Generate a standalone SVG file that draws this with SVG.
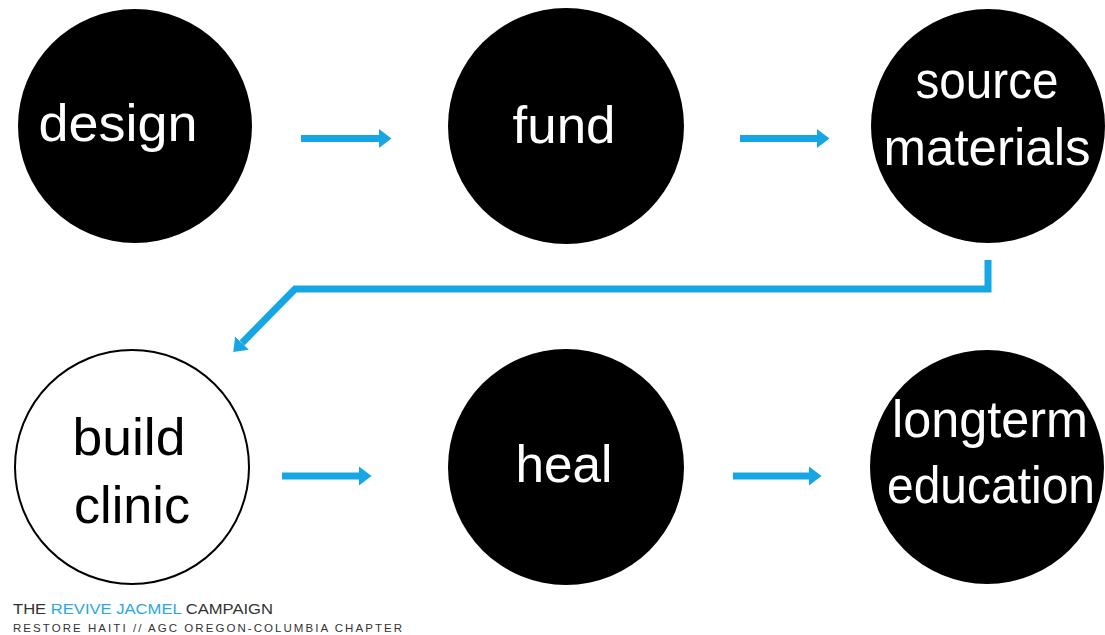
<svg xmlns="http://www.w3.org/2000/svg" width="1105" height="635" viewBox="0 0 1105 635">
<style>
.dark{fill:#000}
.open{fill:#fff;stroke:#000;stroke-width:2}
.lbl{font-family:"Liberation Sans",Arial,Helvetica,sans-serif;font-size:52px;text-anchor:middle}
.w{fill:#fff}
.b{fill:#000}
.conn{fill:none;stroke:#16a6e3;stroke-width:7;stroke-linejoin:miter}
.foot{font-family:"Liberation Sans",Arial,Helvetica,sans-serif;fill:#333}
</style>
<defs>
<marker id="ah" markerUnits="userSpaceOnUse" markerWidth="14" markerHeight="22" viewBox="0 -11 14 22" refX="0" refY="0" orient="auto">
<path d="M0,-9.5 L12.5,0 L0,9.5 z" fill="#16a6e3"/>
</marker>
</defs>
<rect width="1105" height="635" fill="#fff"/>
<g id="node-design">
<circle class="dark" cx="135" cy="126" r="117"/>
<text class="lbl w" x="118" y="141" font-size="55" textLength="159" lengthAdjust="spacingAndGlyphs">design</text>
</g>
<g id="node-fund">
<circle class="dark" cx="566" cy="126" r="118"/>
<text class="lbl w" x="564" y="143" font-size="53" textLength="103" lengthAdjust="spacingAndGlyphs">fund</text>
</g>
<g id="node-source">
<circle class="dark" cx="988" cy="126" r="117"/>
<text class="lbl w" x="987" y="98" font-size="50" textLength="143" lengthAdjust="spacingAndGlyphs">source</text>
<text class="lbl w" x="987" y="165" font-size="51" textLength="207" lengthAdjust="spacingAndGlyphs">materials</text>
</g>
<g id="node-build">
<circle class="open" cx="132" cy="467" r="117"/>
<text class="lbl b" x="129" y="455" font-size="53" textLength="113" lengthAdjust="spacingAndGlyphs">build</text>
<text class="lbl b" x="132" y="523" font-size="52" textLength="116" lengthAdjust="spacingAndGlyphs">clinic</text>
</g>
<g id="node-heal">
<circle class="dark" cx="566" cy="467" r="118"/>
<text class="lbl w" x="564" y="482" font-size="52" textLength="97" lengthAdjust="spacingAndGlyphs">heal</text>
</g>
<g id="node-longterm">
<circle class="dark" cx="987" cy="467" r="117"/>
<text class="lbl w" x="990" y="437" font-size="51" textLength="196" lengthAdjust="spacingAndGlyphs">longterm</text>
<text class="lbl w" x="991" y="503" font-size="50" textLength="208" lengthAdjust="spacingAndGlyphs">education</text>
</g>
<g id="connectors">
<line class="conn" x1="301" y1="138.5" x2="379" y2="138.5" marker-end="url(#ah)"/>
<line class="conn" x1="740" y1="138.5" x2="817" y2="138.5" marker-end="url(#ah)"/>
<line class="conn" x1="282" y1="476" x2="359" y2="476" marker-end="url(#ah)"/>
<line class="conn" x1="733" y1="476" x2="809" y2="476" marker-end="url(#ah)"/>
<polyline class="conn" points="988,260 988,289 295,289 242,343" marker-end="url(#ah)"/>
</g>
<g id="footer">
<text class="foot" x="13" y="614" font-size="15" textLength="260" lengthAdjust="spacingAndGlyphs">THE <tspan fill="#2aa8e0">REVIVE JACMEL</tspan> CAMPAIGN</text>
<text class="foot" x="13" y="632" font-size="11.5" textLength="389" lengthAdjust="spacing">RESTORE HAITI // AGC OREGON-COLUMBIA CHAPTER</text>
</g>
</svg>
